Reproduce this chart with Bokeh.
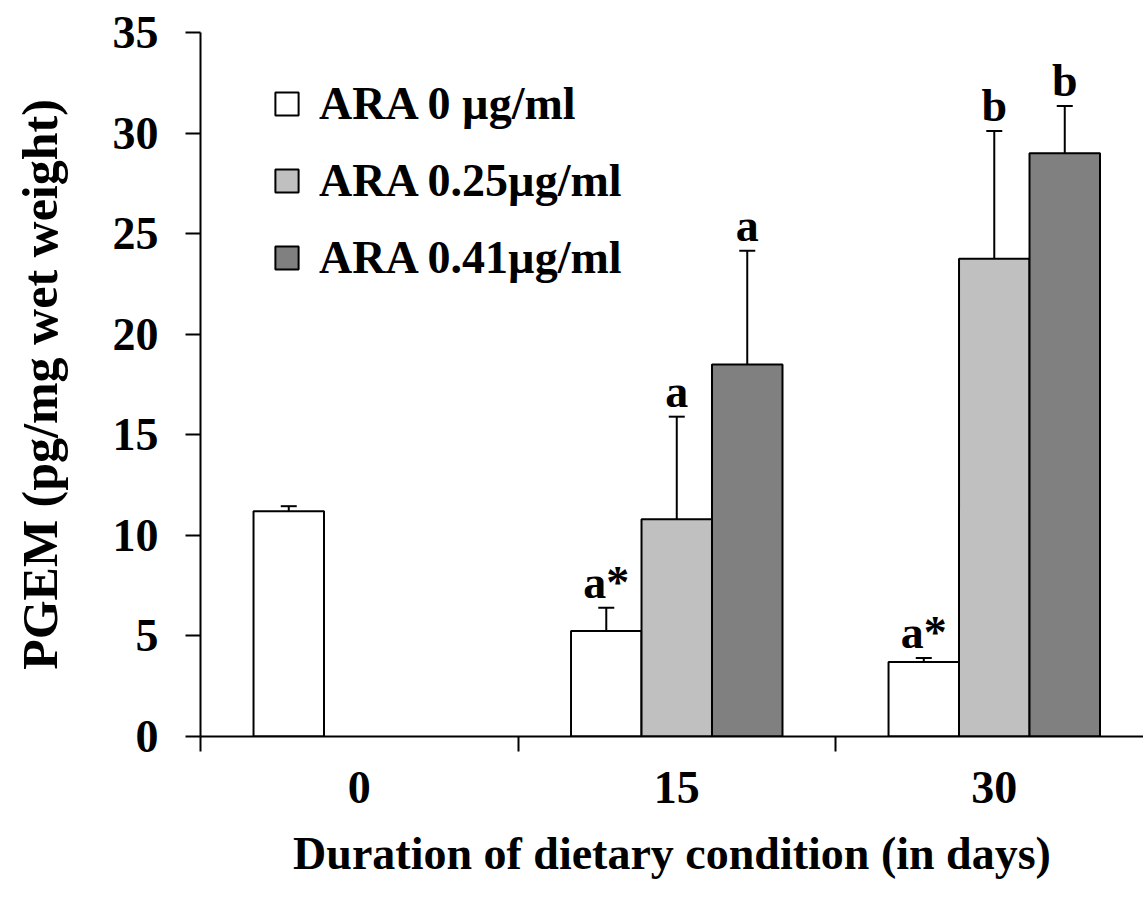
from bokeh.plotting import figure
from bokeh.models import ColumnDataSource, FixedTicker, Whisker, TeeHead, Legend, LegendItem
from bokeh.core.properties import value
from bokeh.embed import file_html
from bokeh.resources import INLINE

days = ["0", "15", "30"]
series = ["ARA 0 µg/ml", "ARA 0.25µg/ml", "ARA 0.41µg/ml"]
colors = ["#FFFFFF", "#C0C0C0", "#808080"]
# values per series for each day (None = no bar)
means = {
    "ARA 0 µg/ml": [11.2, 5.25, 3.7],
    "ARA 0.25µg/ml": [None, 10.8, 23.75],
    "ARA 0.41µg/ml": [None, 18.5, 29.0],
}
upper = {
    "ARA 0 µg/ml": [11.45, 6.4, 3.9],
    "ARA 0.25µg/ml": [None, 15.9, 30.1],
    "ARA 0.41µg/ml": [None, 24.15, 31.35],
}
letters = {
    "ARA 0 µg/ml": ["", "a*", "a*"],
    "ARA 0.25µg/ml": ["", "a", "b"],
    "ARA 0.41µg/ml": ["", "a", "b"],
}
yticks = [0, 5, 10, 15, 20, 25, 30, 35]

FONT = "Liberation Serif"
FS = "46px"
bw = 0.222
offsets = [-bw, 0.0, bw]

p = figure(width=1143, height=898, x_range=(0, 2.97), y_range=(0, 35),
           output_backend="svg", toolbar_location=None,
           min_border_left=200, min_border_right=0, min_border_top=32, min_border_bottom=162)
p.outline_line_color = None
p.xgrid.grid_line_color = None
p.ygrid.ticker = FixedTicker(ticks=[35])
p.ygrid.grid_line_color = "#8C8C8C"
p.ygrid.grid_line_width = 2

items = []
for i, s in enumerate(series):
    xs, tops, ups, labs = [], [], [], []
    for j, d in enumerate(days):
        if means[s][j] is None:
            continue
        xs.append(j + 0.5 + offsets[i])
        tops.append(means[s][j])
        ups.append(upper[s][j])
        labs.append(letters[s][j])
    src = ColumnDataSource(dict(x=xs, top=tops, up=ups, lab=labs))
    r = p.vbar(x="x", top="top", width=bw, bottom=0, source=src,
               fill_color=colors[i], line_color="black", line_width=2)
    items.append(LegendItem(label=s, renderers=[r]))
    w = Whisker(base="x", lower="top", upper="up", source=src, line_color="black", line_width=2,
                upper_head=TeeHead(size=16, line_width=2, line_color="black"), lower_head=None)
    p.add_layout(w)
    p.text(x="x", y="up", text="lab", source=src, text_font=value(FONT), text_font_style="bold",
           text_font_size=FS, text_align="center", text_baseline="bottom", y_offset=0,
           text_color="black")

legend = Legend(items=items, location=(72, 452), orientation="vertical")
legend.label_text_font = FONT
legend.label_text_font_style = "bold"
legend.label_text_font_size = FS
legend.label_text_color = "black"
legend.glyph_width = 29
legend.glyph_height = 29
legend.label_standoff = 18
legend.spacing = 24
legend.padding = 0
legend.border_line_color = None
legend.background_fill_alpha = 0
p.add_layout(legend, "center")

# y axis
p.yaxis.ticker = FixedTicker(ticks=yticks)
p.yaxis.major_tick_in = 0
p.yaxis.major_tick_out = 15
p.yaxis.minor_tick_line_color = None
p.yaxis.axis_line_width = 2
p.yaxis.major_tick_line_width = 2
p.yaxis.major_label_text_font = FONT
p.yaxis.major_label_text_font_style = "bold"
p.yaxis.major_label_text_font_size = FS
p.yaxis.major_label_text_color = "black"
p.yaxis.major_label_standoff = 27
p.yaxis.axis_label = "PGEM (pg/mg wet weight)"
p.yaxis.axis_label_text_font = FONT
p.yaxis.axis_label_text_font_style = "bold"
p.yaxis.axis_label_text_font_size = "50px"
p.yaxis.axis_label_text_color = "black"
p.yaxis.axis_label_standoff = 42

# x axis
p.xaxis.ticker = FixedTicker(ticks=[0.5, 1.5, 2.5], minor_ticks=[0, 1, 2])
p.xaxis.major_label_overrides = {0.5: days[0], 1.5: days[1], 2.5: days[2]}
p.xaxis.major_tick_line_color = None
p.xaxis.minor_tick_in = 0
p.xaxis.minor_tick_out = 15
p.xaxis.minor_tick_line_width = 2
p.xaxis.axis_line_width = 2
p.xaxis.major_label_text_font = FONT
p.xaxis.major_label_text_font_style = "bold"
p.xaxis.major_label_text_font_size = FS
p.xaxis.major_label_text_color = "black"
p.xaxis.major_label_standoff = 20
p.xaxis.axis_label = "Duration of dietary condition (in days)"
p.xaxis.axis_label_text_font = FONT
p.xaxis.axis_label_text_font_style = "bold"
p.xaxis.axis_label_text_font_size = FS
p.xaxis.axis_label_text_color = "black"
p.xaxis.axis_label_standoff = 22

open("out.html", "w").write(file_html(p, INLINE))
